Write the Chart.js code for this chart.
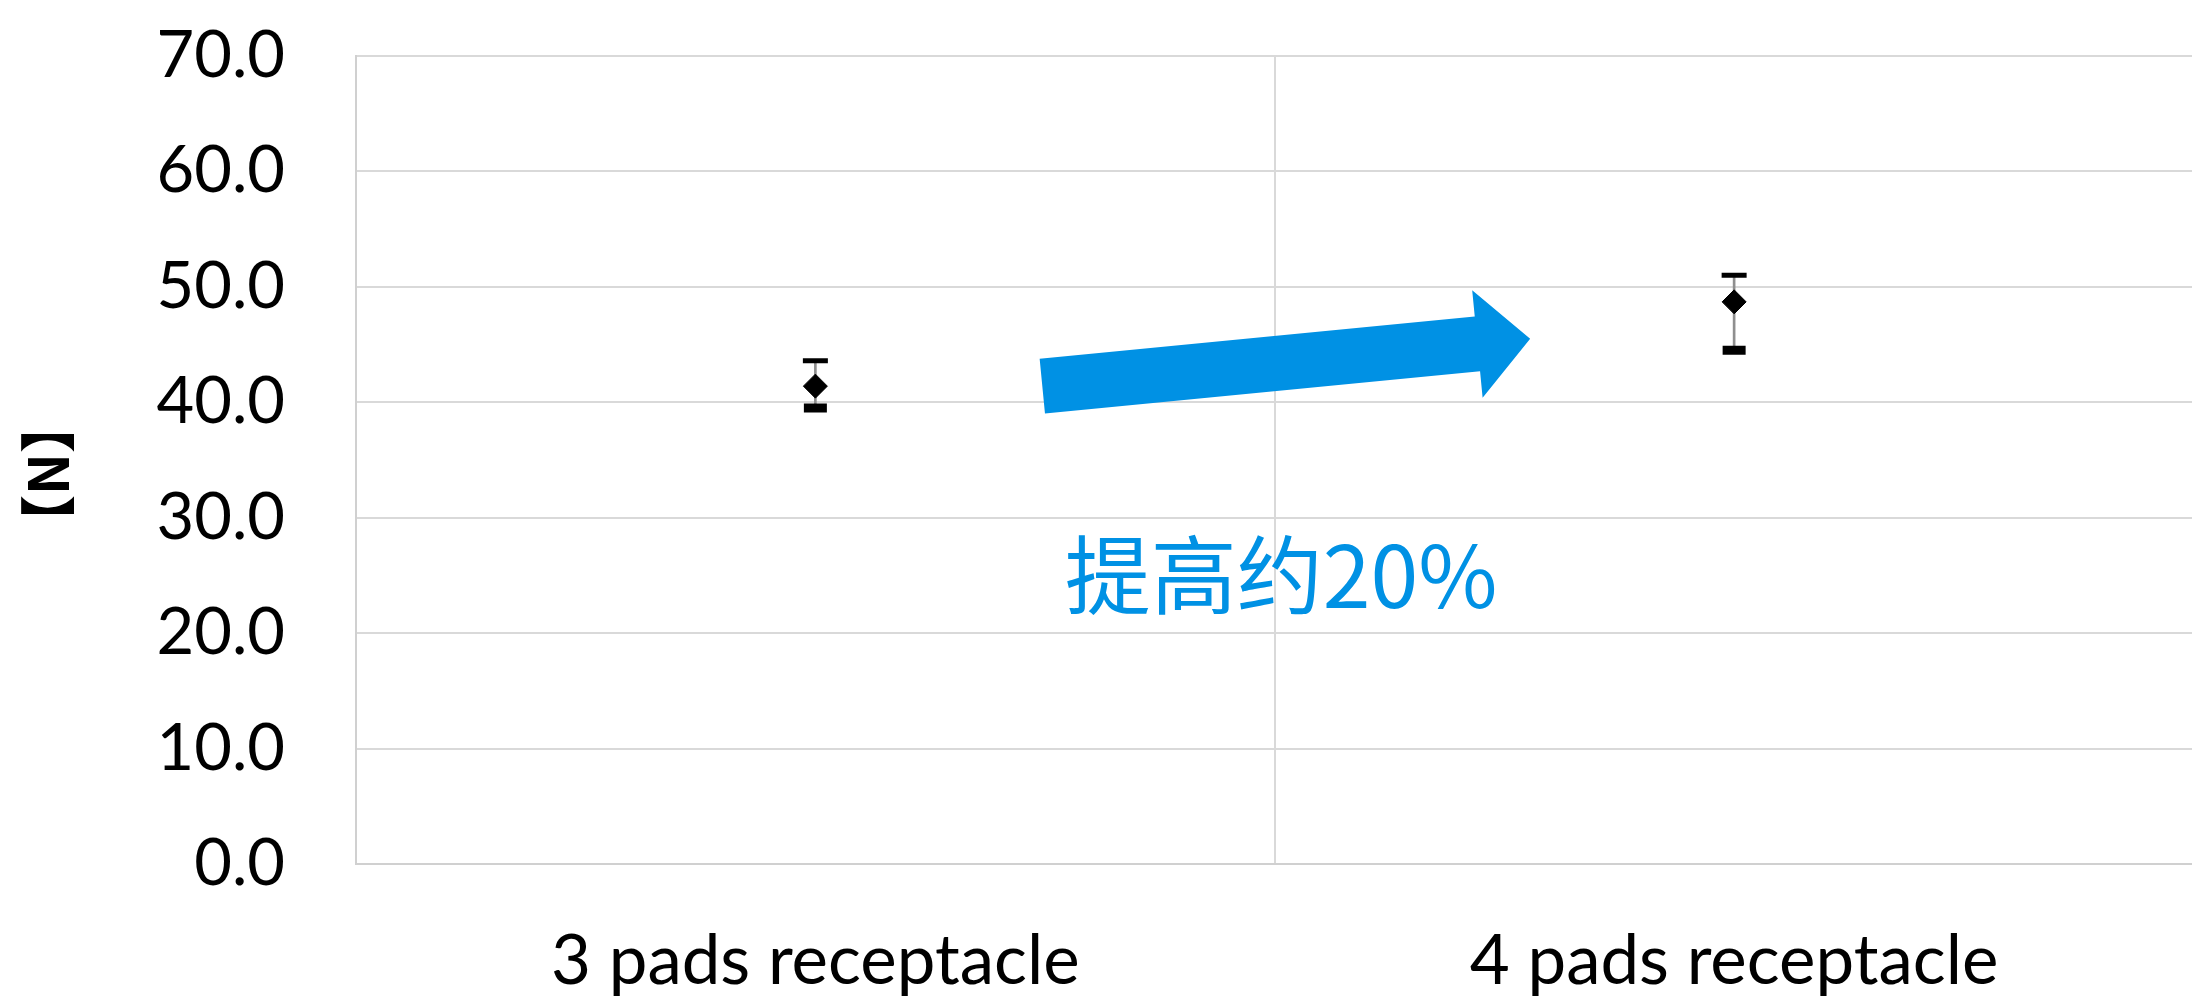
<!DOCTYPE html>
<html>
<head>
<meta charset="utf-8">
<script src="https://cdn.jsdelivr.net/npm/chart.js@4.4.1/dist/chart.umd.min.js"></script>
<style>
  html, body { margin: 0; padding: 0; background: #fff; overflow: hidden; }
  /* plot area runs off the right edge in the original */
  #wrap { width: 2214px; height: 1004px; position: relative; }
  #chart { display: block; }
</style>
</head>
<body>
<div id="wrap"><canvas id="chart"></canvas></div>
<script>
// values
const categories = ['3 pads receptacle', '4 pads receptacle'];
const avgForce = [41.4, 48.7];
const maxForce = [43.6, 51.0];
const minForce = [39.5, 44.5];
const yTickValues = [0, 10, 20, 30, 40, 50, 60, 70];

// annotation anchors, in data units (category index, N)
const arrowFrom = [0.247, 41.4];
const arrowTo = [0.778, 45.5];
const noteText = '提高约20%';
const notePos = [0.507, 25];

const BLUE = '#0091E4';

const arrowPlugin = {
  id: 'arrowNote',
  afterDatasetsDraw(chart) {
    const { ctx, scales: { x, y } } = chart;
    const tx = x.getPixelForValue(arrowFrom[0]), ty = y.getPixelForValue(arrowFrom[1]);
    const px = x.getPixelForValue(arrowTo[0]), py = y.getPixelForValue(arrowTo[1]);
    const len = Math.hypot(px - tx, py - ty);
    const dx = (px - tx) / len, dy = (py - ty) / len;
    const nx = -dy, ny = dx;
    const hw = 27.5, HW = 54, headLen = 53;
    const bx = px - dx * headLen, by = py - dy * headLen;

    ctx.save();
    ctx.fillStyle = BLUE;
    ctx.beginPath();
    ctx.moveTo(tx + nx * hw, ty + ny * hw);
    ctx.lineTo(bx + nx * hw, by + ny * hw);
    ctx.lineTo(bx + nx * HW, by + ny * HW);
    ctx.lineTo(px, py);
    ctx.lineTo(bx - nx * HW, by - ny * HW);
    ctx.lineTo(bx - nx * hw, by - ny * hw);
    ctx.lineTo(tx - nx * hw, ty - ny * hw);
    ctx.closePath();
    ctx.fill();

    ctx.font = "86px 'Noto Sans CJK SC', 'Noto Sans'";
    ctx.textAlign = 'center';
    ctx.textBaseline = 'middle';
    ctx.fillText(noteText, x.getPixelForValue(notePos[0]), y.getPixelForValue(notePos[1]));
    ctx.restore();
  }
};

new Chart(document.getElementById('chart'), {
  data: {
    labels: categories,
    datasets: [
      {
        type: 'line',
        data: avgForce,
        showLine: false,
        pointStyle: 'rectRot',
        pointRadius: 12,
        pointBackgroundColor: '#000',
        pointBorderColor: '#000',
        pointBorderWidth: 1,
        order: 1
      },
      {
        type: 'line',
        data: maxForce,
        showLine: false,
        pointStyle: 'line',
        pointRadius: 12.5,
        pointBorderColor: '#000',
        pointBorderWidth: 5,
        order: 1
      },
      {
        type: 'line',
        data: minForce,
        showLine: false,
        pointStyle: 'line',
        pointRadius: 11.5,
        pointBorderColor: '#000',
        pointBorderWidth: 9,
        order: 1
      },
      {
        // high-low line
        type: 'bar',
        data: categories.map((_, i) => [minForce[i], maxForce[i]]),
        backgroundColor: '#8f8f8f',
        barThickness: 2,
        order: 2
      }
    ]
  },
  options: {
    responsive: true,
    maintainAspectRatio: false,
    animation: false,
    layout: { padding: { top: 56, right: 0, left: 0, bottom: 0 } },
    plugins: { legend: { display: false }, tooltip: { enabled: false } },
    scales: {
      x: {
        offset: true,
        grid: { offset: true, color: '#d9d9d9', lineWidth: 2, drawTicks: false },
        border: { color: '#d0d0d0', width: 2 },
        ticks: { color: '#000', font: { family: 'Lato', size: 69 }, padding: 56 },
        afterFit(scale) {
          scale.height = 140;
          scale.paddingLeft = 0;
          scale.paddingRight = 0;
        }
      },
      y: {
        min: 0,
        max: 70,
        afterBuildTicks(scale) { scale.ticks = yTickValues.map(v => ({ value: v })); },
        grid: { color: '#d9d9d9', lineWidth: 2, drawTicks: false },
        border: { color: '#d0d0d0', width: 2 },
        ticks: {
          color: '#000',
          font: { family: 'Lato', size: 65 },
          padding: 71,
          callback: v => v.toFixed(1)
        },
        title: {
          display: true,
          text: '【N】\u2002',
          color: '#000',
          font: { family: "'Noto Sans CJK SC', 'Open Sans'", size: 56, weight: 'bold' },
          padding: { top: 14, bottom: 0 }
        },
        afterFit(scale) {
          scale.width = 356;
          scale.paddingTop = 0;
          scale.paddingBottom = 0;
        }
      }
    }
  },
  plugins: [arrowPlugin]
});
</script>
</body>
</html>
